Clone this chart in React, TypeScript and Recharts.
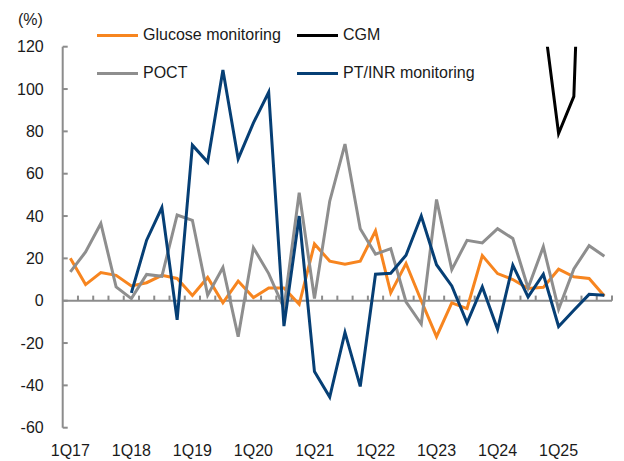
import { Line, LineChart, ReferenceLine, XAxis, YAxis } from "recharts";

const quarters = [
  "1Q17", "2Q17", "3Q17", "4Q17",
  "1Q18", "2Q18", "3Q18", "4Q18",
  "1Q19", "2Q19", "3Q19", "4Q19",
  "1Q20", "2Q20", "3Q20", "4Q20",
  "1Q21", "2Q21", "3Q21", "4Q21",
  "1Q22", "2Q22", "3Q22", "4Q22",
  "1Q23", "2Q23", "3Q23", "4Q23",
  "1Q24", "2Q24", "3Q24", "4Q24",
  "1Q25", "2Q25", "3Q25", "4Q25",
];

const glucose = [
  20, 7.6, 13.3, 12, 7, 8.5, 12, 10.5, 2.5, 11, -1, 9.3,
  1.5, 6, 6, -1.7, 26.8, 18.7, 17.2, 18.7, 33, 3.7, 17.6, 0,
  -17, -1, -3.7, 21.3, 12.8, 10, 5.8, 6.3, 14.9, 11.3, 10.5, 2.2,
];

const cgm = [
  null, null, null, null, null, null, null, null, null, null, null, null,
  null, null, null, null, null, null, null, null, null, null, null, null,
  null, null, null, null, null, null, null, 135, 79, 96.5, 300, null,
];

const poct = [
  13.6, 23, 36.5, 6.5, 1, 12.4, 11.5, 40.5, 38, 2.6, 15.7, -17,
  25, 12.8, -3.5, 51, 1, 47, 74, 34, 22, 24.6, -0.5, -11,
  47.8, 14.7, 28.5, 27.3, 34, 29.4, 6, 25.5, -4, 15, 26, 21,
];

const ptInr = [
  null, null, null, null, 3.7, 28.6, 44, -9, 73.5, 65.5, 109, 67,
  84, 98.5, -12, 40, -33.5, -45.5, -15, -40.5, 12.5, 13, 21.5, 40,
  17, 7, -10.5, 6.5, -13.5, 16.8, 1.8, 12.5, -12.2, -4.5, 3, 2.6,
];

const yTicks = [-60, -40, -20, 0, 20, 40, 60, 80, 100, 120];
const xTickLabels = ["1Q17", "1Q18", "1Q19", "1Q20", "1Q21", "1Q22", "1Q23", "1Q24", "1Q25"];

const data = quarters.map((q, i) => ({
  idx: i,
  quarter: q,
  glucose: glucose[i],
  cgm: cgm[i],
  poct: poct[i],
  ptInr: ptInr[i],
}));

const xTicks = xTickLabels.map((l) => quarters.indexOf(l));
const boundaries = quarters.map((_, i) => i + 0.5);

const AXIS = "#8c8c8c";
const TEXT = "#1a1a1a";
const FONT = "'Liberation Sans', Arial, sans-serif";

const series = [
  { key: "glucose", name: "Glucose monitoring", color: "#f7851f" },
  { key: "cgm", name: "CGM", color: "#000000" },
  { key: "poct", name: "POCT", color: "#8e8e8e" },
  { key: "ptInr", name: "PT/INR monitoring", color: "#063f75" },
];

function YTick({ x, y, payload }: any) {
  return (
    <g>
      <line x1={x} x2={x + 5} y1={y} y2={y} stroke={AXIS} strokeWidth={2} />
      <text x={x - 19} y={y} dy="0.36em" textAnchor="end" fontSize={16} fill={TEXT} fontFamily={FONT}>
        {payload.value}
      </text>
    </g>
  );
}

function XTick({ x, y, payload }: any) {
  return (
    <text x={x} y={y + 28} textAnchor="middle" fontSize={16} fill={TEXT} fontFamily={FONT}>
      {quarters[payload.value]}
    </text>
  );
}

function LegendRow({ color, label, left, top }: { color: string; label: string; left: number; top: number }) {
  return (
    <div style={{ position: "absolute", left, top, display: "flex", alignItems: "center", height: 20 }}>
      <div style={{ width: 41, height: 3, background: color, marginRight: 5 }} />
      <span style={{ fontSize: 16, color: TEXT, whiteSpace: "nowrap" }}>{label}</span>
    </div>
  );
}

export default function App() {
  return (
    <div style={{ position: "absolute", left: 0, top: 0, width: 624, height: 461, background: "#fff", fontFamily: FONT }}>
      <LineChart width={624} height={461} data={data} margin={{ top: 46.7, right: 12, bottom: 0, left: 0 }}>
        <XAxis
          dataKey="idx"
          type="number"
          domain={[-0.5, 35.5]}
          ticks={xTicks}
          interval={0}
          height={33.3}
          axisLine={false}
          tickLine={false}
          tickSize={0}
          tickMargin={0}
          tick={<XTick />}
        />
        <YAxis
          type="number"
          domain={[-60, 120]}
          ticks={yTicks}
          interval={0}
          allowDataOverflow
          width={62.7}
          axisLine={{ stroke: AXIS, strokeWidth: 2 }}
          tickLine={false}
          tickSize={0}
          tickMargin={0}
          tick={<YTick />}
        />
        <ReferenceLine y={0} stroke={AXIS} strokeWidth={2} />
        {boundaries.map((b) => (
          <ReferenceLine
            key={b}
            segment={[{ x: b, y: 0 }, { x: b, y: 2.4 }]}
            stroke={AXIS}
            strokeWidth={2}
          />
        ))}
        {series.map((s) => (
          <Line
            key={s.key}
            dataKey={s.key}
            name={s.name}
            type="linear"
            stroke={s.color}
            strokeWidth={3}
            dot={false}
            activeDot={false}
            isAnimationActive={false}
          />
        ))}
      </LineChart>
      <div style={{ position: "absolute", left: 18, top: 11, fontSize: 16, color: TEXT }}>(%)</div>
      <LegendRow color={series[0].color} label={series[0].name} left={97} top={25} />
      <LegendRow color={series[1].color} label={series[1].name} left={297} top={25} />
      <LegendRow color={series[2].color} label={series[2].name} left={97} top={63} />
      <LegendRow color={series[3].color} label={series[3].name} left={297} top={63} />
    </div>
  );
}
